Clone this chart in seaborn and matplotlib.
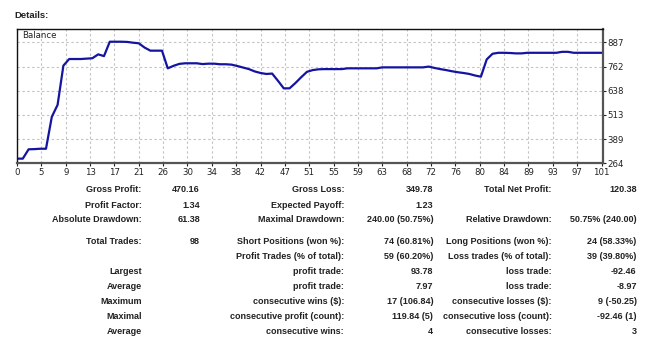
import numpy as np
import pandas as pd
import matplotlib
matplotlib.use("Agg")
import matplotlib.pyplot as plt
import seaborn as sns

# Account balance after each trade / balance operation
balance = [
    288, 288, 336, 337, 339, 339, 503, 565, 767, 801,
    801, 801, 803, 805, 825, 816, 890, 890, 890, 889,
    885, 882, 860, 844, 844, 844, 753, 766, 776, 779,
    779, 779, 775, 777, 777, 774, 774, 772, 765, 757,
    749, 737, 729, 724, 726, 689, 650, 650, 677, 707,
    735, 744, 748, 749, 749, 749, 749, 753, 753, 753,
    753, 753, 753, 758, 758, 758, 758, 758, 758, 758,
    758, 762, 755, 749, 744, 738, 733, 729, 724, 716,
    710, 799, 828, 833, 833, 832, 830, 830, 833, 833,
    833, 833, 833, 833, 838, 838, 833, 833, 833, 833,
    833, 833,
]

x_tick_labels = [0, 5, 9, 13, 17, 21, 26, 30, 34, 38, 42, 47, 51,
                 55, 59, 63, 68, 72, 76, 80, 84, 89, 93, 97, 101]
y_tick_labels = [264, 389, 513, 638, 762, 887]

# Summary report: three label/value column pairs
labels_1 = ["Gross Profit:", "Profit Factor:", "Absolute Drawdown:", "Total Trades:",
            "", "Largest", "Average", "Maximum", "Maximal", "Average"]
values_1 = ["470.16", "1.34", "61.38", "98", "", "", "", "", "", ""]
labels_2 = ["Gross Loss:", "Expected Payoff:", "Maximal Drawdown:",
            "Short Positions (won %):", "Profit Trades (% of total):",
            "profit trade:", "profit trade:", "consecutive wins ($):",
            "consecutive profit (count):", "consecutive wins:"]
values_2 = ["349.78", "1.23", "240.00 (50.75%)", "74 (60.81%)", "59 (60.20%)",
            "93.78", "7.97", "17 (106.84)", "119.84 (5)", "4"]
labels_3 = ["Total Net Profit:", "", "Relative Drawdown:", "Long Positions (won %):",
            "Loss trades (% of total):", "loss trade:", "loss trade:",
            "consecutive losses ($):", "consecutive loss (count):", "consecutive losses:"]
values_3 = ["120.38", "", "50.75% (240.00)", "24 (58.33%)", "39 (39.80%)",
            "-92.46", "-8.97", "9 (-50.25)", "-92.46 (1)", "3"]

sns.set_style("white")
plt.rcParams["font.family"] = ["DejaVu Sans"]
TABLE_FONT = ["Liberation Sans", "DejaVu Sans"]

W, H = 650, 340
fig = plt.figure(figsize=(W / 100, H / 100), dpi=100)
ax = fig.add_axes([17 / W, 1 - 163.3 / H, (602.7 - 17) / W, (163.3 - 29.3) / H])

df = pd.DataFrame({"trade": np.arange(len(balance)), "balance": balance})
sns.lineplot(data=df, x="trade", y="balance", ax=ax, color="#1414a0",
             linewidth=1.6, solid_joinstyle="round")

ax.set_xlim(0, 101)
ax.set_ylim(264, 954)

xt = np.arange(len(x_tick_labels)) * 4.2
ax.set_xticks(xt)
ax.set_xticklabels([str(v) for v in x_tick_labels])
ax.set_yticks(y_tick_labels)
ax.set_yticklabels([str(v) for v in y_tick_labels])
ax.yaxis.tick_right()
ax.tick_params(axis="both", which="major", length=2, width=0.8, color="#222222",
               labelsize=6.2, labelcolor="#222222", pad=1.5, direction="out")
ax.tick_params(axis="x", bottom=True)
ax.tick_params(axis="y", right=True)
ax.set_xlabel("")
ax.set_ylabel("")

ax.grid(True, color="#c4c4c4", linestyle=(0, (2.2, 2.2)), linewidth=0.8)
for s in ax.spines.values():
    s.set_visible(True)
    s.set_color("#111111")
    s.set_linewidth(1.0)
ax.spines["right"].set_linewidth(1.6)
ax.spines["bottom"].set_linewidth(1.6)
ax.spines["right"].set_color("#555555")
ax.spines["bottom"].set_color("#555555")

ax.text(0.008, 0.985, "Balance", transform=ax.transAxes, ha="left", va="top",
        fontsize=6.2, color="#222222")

fig.text(14 / W, 1 - 16 / H, "Details:", ha="left", va="center", family=TABLE_FONT,
         fontsize=6.8, fontweight="bold", color="#222222")

row_y = [190, 205, 220, 241.5, 256.5, 271.5, 286.5, 301.5, 316.5, 332]
col_right = [141.7, 200, 344, 433.3, 551.7, 636.7]
columns = [labels_1, values_1, labels_2, values_2, labels_3, values_3]
for cx, texts in zip(col_right, columns):
    for ry, t in zip(row_y, texts):
        if t:
            fig.text(cx / W, 1 - ry / H, t, ha="right", va="center", family=TABLE_FONT,
                     fontsize=6.5, fontweight="bold", color="#222222")

fig.savefig("out.png", dpi=100, facecolor="white")
